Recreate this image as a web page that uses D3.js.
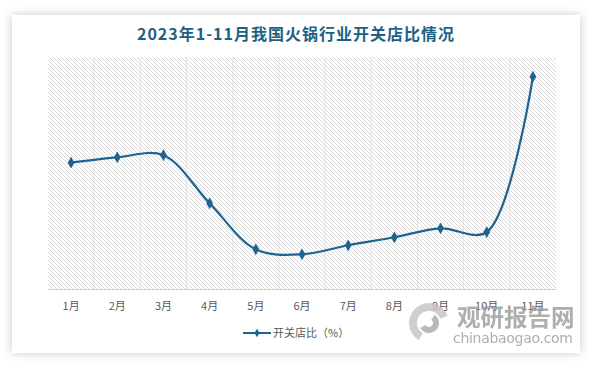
<!DOCTYPE html>
<html><head><meta charset="utf-8">
<script src="https://cdn.jsdelivr.net/npm/d3@7/dist/d3.min.js"></script>
<style>
html,body{margin:0;padding:0;background:#fff;}
svg{display:block;}
</style></head>
<body>
<svg id="c" width="594" height="368"></svg>
<script>
const categories = ["1月","2月","3月","4月","5月","6月","7月","8月","9月","10月","11月"];
const ratioValues = [108.9,113.5,115.3,73.9,34.2,29.9,37.7,44.6,52.3,49.1,183.0];
const seriesName = "开关店比（%）";
const titleText = "2023年1-11月我国火锅行业开关店比情况";

(function(){
const svg = d3.select("#c");
const defs = svg.append("defs");
const f = defs.append("filter").attr("id","sh").attr("x","-10%").attr("y","-10%").attr("width","120%").attr("height","120%");
f.append("feDropShadow").attr("dx",0).attr("dy",0).attr("stdDeviation",5).attr("flood-color","#000").attr("flood-opacity",0.22);
const pat = defs.append("pattern").attr("id","hatch").attr("patternUnits","userSpaceOnUse").attr("width",4).attr("height",4);
pat.append("rect").attr("width",4).attr("height",4).attr("fill","#fff");
pat.append("path").attr("d","M-1,-1 L5,5 M-1,3 L1,5 M3,-1 L5,1").attr("stroke","#d4d4d4").attr("stroke-width",0.9);

svg.append("rect").attr("x",12).attr("y",15).attr("width",568).attr("height",338).attr("fill","#fff").attr("filter","url(#sh)");

svg.append("text").attr("x",296).attr("y",40).attr("text-anchor","middle")
  .attr("font-family","'Noto Sans CJK SC',sans-serif").attr("font-weight","bold").attr("font-size",16)
  .attr("letter-spacing",1).attr("fill","#1d6184").text(titleText);

const pl=48, pr=556, pt=57, pb=289;
const x = d3.scaleBand().domain(categories).range([pl,pr]);
const y = d3.scaleLinear().domain([0,200]).range([pb,pt]);

svg.append("rect").attr("x",pl).attr("y",pt).attr("width",pr-pl).attr("height",pb-pt).attr("fill","url(#hatch)");

svg.append("g").selectAll("line").data(categories.slice(1)).join("line")
  .attr("x1",d=>x(d)).attr("x2",d=>x(d)).attr("y1",pt).attr("y2",pb)
  .attr("stroke","#e2e2e2").attr("stroke-width",1);

const ax = svg.append("g").attr("transform",`translate(0,${pb})`)
  .call(d3.axisBottom(x).tickSize(0).tickPadding(13));
ax.select(".domain").attr("stroke","#d0d0d0").attr("stroke-width",1.2);
ax.selectAll("text").attr("font-family","'Noto Sans CJK SC',sans-serif").attr("font-size",11).attr("fill","#595959");

const line = d3.line().x((d,i)=>x(categories[i])+x.bandwidth()/2).y(d=>y(d)).curve(d3.curveCatmullRom.alpha(0.5));
svg.append("path").datum(ratioValues).attr("d",line).attr("fill","none").attr("stroke","#1f6391").attr("stroke-width",2.2);

const diamond = d3.symbol().type(d3.symbolDiamond).size(40);
svg.append("g").selectAll("path").data(ratioValues).join("path")
  .attr("transform",(d,i)=>`translate(${x(categories[i])+x.bandwidth()/2},${y(d)})`)
  .attr("d",diamond).attr("fill","#1f6391");

const lg = svg.append("g").attr("transform","translate(243,333)");
lg.append("line").attr("x1",0).attr("x2",28).attr("y1",0).attr("y2",0).attr("stroke","#1f6391").attr("stroke-width",2);
lg.append("path").attr("transform","translate(14,0)").attr("d",d3.symbol().type(d3.symbolDiamond).size(22)).attr("fill","#1f6391");
lg.append("text").attr("x",30).attr("y",4).attr("font-family","'Noto Sans CJK SC',sans-serif").attr("font-size",11).attr("fill","#595959").text(seriesName);

const wm = svg.append("g").attr("opacity",0.8);
const arc = d3.arc();
wm.append("path").attr("transform","translate(429,323)")
  .attr("d",arc({innerRadius:12,outerRadius:20,startAngle:-2.6,endAngle:1.2})).attr("fill","#c4c4c4");
wm.append("path").attr("transform","translate(429,323)")
  .attr("d",arc({innerRadius:4,outerRadius:10,startAngle:0.6,endAngle:4.2})).attr("fill","#a8a8a8");
wm.append("text").attr("x",457).attr("y",326).attr("font-family","'Noto Sans CJK SC',sans-serif").attr("font-weight","bold").attr("font-size",23.5).attr("fill","#9a9a9a").text("观研报告网");
wm.append("text").attr("x",453).attr("y",343).attr("font-family","'DejaVu Sans',sans-serif").attr("font-size",14).attr("textLength",120).attr("fill","#9a9a9a").text("chinabaogao.com");
})();
</script>
</body></html>
